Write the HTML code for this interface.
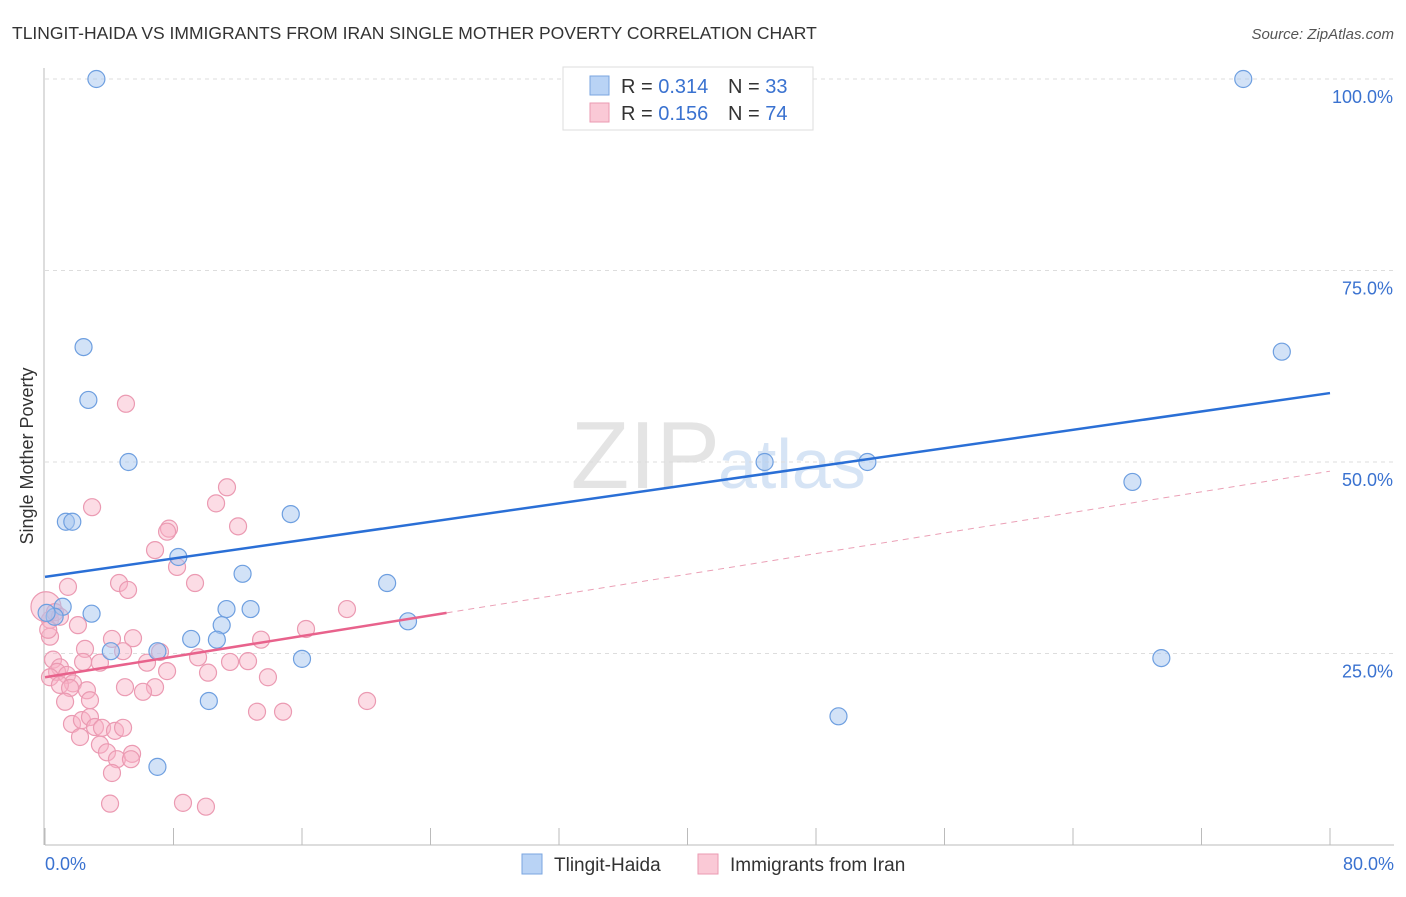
<!DOCTYPE html>
<html><head><meta charset="utf-8"><style>
body{margin:0;background:#fff;font-family:"Liberation Sans",sans-serif;}
svg text{font-family:"Liberation Sans",sans-serif;}
</style></head><body>
<svg id="chart" width="1406" height="892" xmlns="http://www.w3.org/2000/svg">
<text x="12" y="39" font-size="17.5" fill="#333">TLINGIT-HAIDA VS IMMIGRANTS FROM IRAN SINGLE MOTHER POVERTY CORRELATION CHART</text>
<text x="1394" y="39" font-size="15" fill="#555" text-anchor="end" font-style="italic">Source: ZipAtlas.com</text>
<text x="720" y="488" font-size="96" fill="#e4e4e4" text-anchor="end" font-family="Liberation Serif">ZIP</text>
<text x="718" y="488" font-size="70" fill="#d6e4f5">atlas</text>
<g id="grid"></g><g id="axes"></g><g id="pts"></g><g id="lines"></g>
<text x="33" y="456" font-size="18" fill="#333" text-anchor="middle" transform="rotate(-90 33 456)">Single Mother Poverty</text>
<text x="45" y="870" font-size="18" fill="#3a72d0">0.0%</text>
<text x="1394" y="870" font-size="18" fill="#3a72d0" text-anchor="end">80.0%</text>
<g>
<rect x="563" y="67" width="250" height="63" fill="#fff" stroke="#ddd"/>
<rect x="590" y="76" width="19" height="19" fill="#b9d3f5" stroke="#7aa6e0"/>
<rect x="590" y="103" width="19" height="19" fill="#fac9d6" stroke="#eb9ab2"/>
<text x="621" y="93" font-size="20" fill="#333">R = <tspan fill="#3a72d0">0.314</tspan></text>
<text x="728" y="93" font-size="20" fill="#333">N = <tspan fill="#3a72d0">33</tspan></text>
<text x="621" y="120" font-size="20" fill="#333">R = <tspan fill="#3a72d0">0.156</tspan></text>
<text x="728" y="120" font-size="20" fill="#333">N = <tspan fill="#3a72d0">74</tspan></text>
</g>
<g>
<rect x="522" y="854" width="20" height="20" fill="#b9d3f5" stroke="#7aa6e0"/>
<text x="554" y="871" font-size="19" fill="#333">Tlingit-Haida</text>
<rect x="698" y="854" width="20" height="20" fill="#fac9d6" stroke="#eb9ab2"/>
<text x="730" y="871" font-size="19" fill="#333">Immigrants from Iran</text>
</g>
</svg>
<script>
const blueX=[3.2,36.5,74.6,2.4,2.7,5.2,1.3,1.7,15.3,8.3,12.3,21.3,1.1,2.9,11.3,12.8,0.6,11.0,22.6,4.1,7.0,9.1,10.7,16.0,10.2,7.0,44.8,51.2,67.7,77.0,69.5,49.4,0.1];
const blueY=[100,100,100,65.0,58.1,50.0,42.2,42.2,43.2,37.6,35.4,34.2,31.1,30.2,30.8,30.8,29.8,28.7,29.2,25.3,25.3,26.9,26.8,24.3,18.8,10.2,50.0,50.0,47.4,64.4,24.4,16.8,30.3];
const pinkX=[2.93,11.33,10.65,12.02,7.72,7.60,6.85,8.22,1.43,4.61,5.17,9.34,18.80,2.05,4.17,5.48,2.49,4.86,16.25,13.45,7.16,9.53,11.52,12.64,6.35,3.42,2.37,10.15,7.60,13.88,0.50,0.93,0.75,0.31,1.37,1.74,0.93,1.56,2.61,2.80,1.25,4.98,6.85,20.05,13.20,14.82,1.68,2.30,2.80,3.11,3.55,4.36,4.86,2.18,3.42,3.86,4.48,5.42,5.35,4.17,4.05,8.59,10.02,0.31,0.31,0.06,0.62,6.10,0.93,5.04,0.2];
const pinkY=[44.1,46.7,44.6,41.6,41.3,40.9,38.5,36.3,33.7,34.2,33.3,34.2,30.8,28.7,26.9,27.0,25.6,25.3,28.2,26.8,25.2,24.5,23.9,24.0,23.8,23.8,23.9,22.5,22.7,21.9,24.2,23.2,22.6,21.9,22.2,21.1,20.9,20.5,20.2,18.9,18.7,20.6,20.6,18.8,17.4,17.4,15.8,16.3,16.7,15.4,15.3,14.9,15.3,14.1,13.1,12.1,11.2,11.9,11.2,9.4,5.4,5.5,5.0,27.2,29.4,31.1,30.4,20.0,29.8,57.6,28.1];
const yTicks=[25,50,75,100];
const yTickLabels=["25.0%","50.0%","75.0%","100.0%"];
const xTicks=[0,8,16,24,32,40,48,56,64,72,80];
const blueTrend=[35.0,59.0];
const pinkTrend=[21.9,48.8];
const pinkSolidEnd=25;
const NS="http://www.w3.org/2000/svg";
const sx=v=>45+v/80*1285, sy=v=>845-v/100*766;
function mk(p,t,a){const e=document.createElementNS(NS,t);for(const k in a)e.setAttribute(k,a[k]);document.getElementById(p).appendChild(e);return e;}
yTicks.forEach((t,i)=>{
 let g=mk('grid','line',{x1:45,x2:1394,y1:sy(t),y2:sy(t),stroke:'#ddd','stroke-dasharray':'4,4'});
 
 
 let tx=mk('grid','text',{x:1393,y:sy(t)+24,'font-size':18,fill:'#3a72d0','text-anchor':'end'});
 tx.textContent=yTickLabels[i];
 
 
});
let ax=mk('axes','line',{x1:45,x2:1394,y1:845,y2:845,stroke:'#bbb'});


let ay=mk('axes','line',{x1:44,x2:44,y1:68,y2:845,stroke:'#bbb'});


xTicks.forEach(t=>{let l=mk('axes','line',{x1:sx(t),x2:sx(t),y1:828,y2:845,stroke:'#bbb'});
 
 });
pinkX.forEach((x,i)=>{let c=mk('pts','circle',{cx:sx(x),cy:sy(pinkY[i]),r:(i==65?15:8.5),fill:'rgba(248,178,198,0.45)',stroke:'#eb9ab2','stroke-width':1.2});
 
 });
blueX.forEach((x,i)=>{let c=mk('pts','circle',{cx:sx(x),cy:sy(blueY[i]),r:8.5,fill:'rgba(165,198,240,0.5)',stroke:'#6e9fe0','stroke-width':1.2});
 
 });
const pv=x=>pinkTrend[0]+(pinkTrend[1]-pinkTrend[0])*x/80;
let bl=mk('lines','line',{x1:sx(0),y1:sy(blueTrend[0]),x2:sx(80),y2:sy(blueTrend[1]),stroke:'#2a6fd6','stroke-width':2.5});


let pd=mk('lines','line',{x1:sx(pinkSolidEnd),y1:sy(pv(pinkSolidEnd)),x2:sx(80),y2:sy(pinkTrend[1]),stroke:'#eba0b6','stroke-width':1,'stroke-dasharray':'6,5'});


let ps=mk('lines','line',{x1:sx(0),y1:sy(pinkTrend[0]),x2:sx(pinkSolidEnd),y2:sy(pv(pinkSolidEnd)),stroke:'#e8628c','stroke-width':2.5});


</script>
</body></html>
